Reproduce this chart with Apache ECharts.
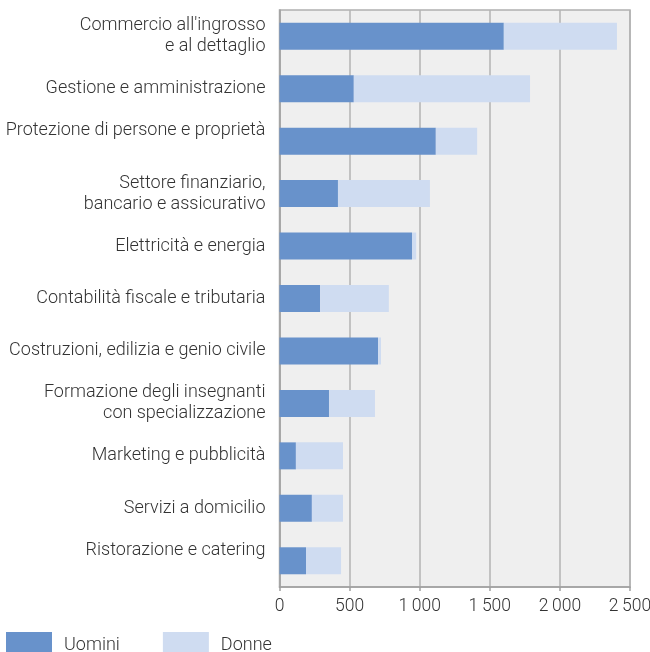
<!DOCTYPE html>
<html><head><meta charset="utf-8">
<script src="https://cdn.jsdelivr.net/npm/echarts@6/dist/echarts.min.js"></script>
<style>html,body{margin:0;padding:0;background:#fff}#c{width:650px;height:652px}</style>
</head><body><div id="c"></div>
<script>
const categories = [
  "Commercio all'ingrosso\ne al dettaglio",
  "Gestione e amministrazione",
  "Protezione di persone e proprietà",
  "Settore finanziario,\nbancario e assicurativo",
  "Elettricità e energia",
  "Contabilità fiscale e tributaria",
  "Costruzioni, edilizia e genio civile",
  "Formazione degli insegnanti\ncon specializzazione",
  "Marketing e pubblicità",
  "Servizi a domicilio",
  "Ristorazione e catering"
];
const uomini = [1600, 530, 1115, 417, 945, 290, 703, 353, 117, 231, 189];
const donne = [807, 1257, 295, 656, 30, 490, 21, 328, 336, 222, 250];
const xTicks = [0, 500, 1000, 1500, 2000, 2500];

// labels that sit half a line above their bar in the original layout
const raisedLabelIdx = [2, 10];

const chart = echarts.init(document.getElementById('c'));
const font = 'Roboto';
chart.setOption({
  animation: false,
  textStyle: {fontFamily: font},
  grid: {left: 279.5, right: 20, top: 10, bottom: 65, containLabel: false, outerBoundsMode: 'none',
         show: true, backgroundColor: '#efefef', borderColor: '#b0b0b0', borderWidth: 1.5},
  legend: {
    left: 6, top: 632, padding: 0, itemWidth: 46, itemHeight: 27, itemGap: 43,
    icon: 'rect',
    textStyle: {fontFamily: font, fontWeight: 300, fontSize: 18, color: '#333', padding: [0,0,0,7]},
    data: ['Uomini', 'Donne']
  },
  xAxis: {
    type: 'value', min: 0, max: 2500, interval: 500,
    axisLine: {show: true, lineStyle: {color: '#a0a0a0', width: 1.5}},
    axisTick: {show: true, length: 4, lineStyle: {color: '#a0a0a0', width: 1.5}},
    splitLine: {show: true, lineStyle: {color: '#b3b3b3', width: 1.5}},
    axisLabel: {
      fontFamily: font, fontWeight: 300, fontSize: 17.5, color: '#333', margin: 11,
      formatter: v => xTicks.includes(v) ? String(v).replace(/\B(?=(\d{3})+(?!\d))/g, '\u2009') : ''
    }
  },
  yAxis: {
    type: 'category', data: categories, inverse: true,
    axisLine: {show: true, lineStyle: {color: '#a0a0a0', width: 1.5}},
    axisTick: {show: false},
    axisLabel: {
      fontFamily: font, fontWeight: 300, fontSize: 18, color: '#333', margin: 14, lineHeight: 21,
      formatter: (v, i) => raisedLabelIdx.includes(i) ? v + '\n ' : v
    }
  },
  series: [
    {name: 'Uomini', type: 'bar', stack: 'a', data: uomini, barWidth: 27, itemStyle: {color: '#6892cb'}},
    {name: 'Donne', type: 'bar', stack: 'a', data: donne, barWidth: 27, itemStyle: {color: '#cfdcf1'}}
  ]
});
</script></body></html>
